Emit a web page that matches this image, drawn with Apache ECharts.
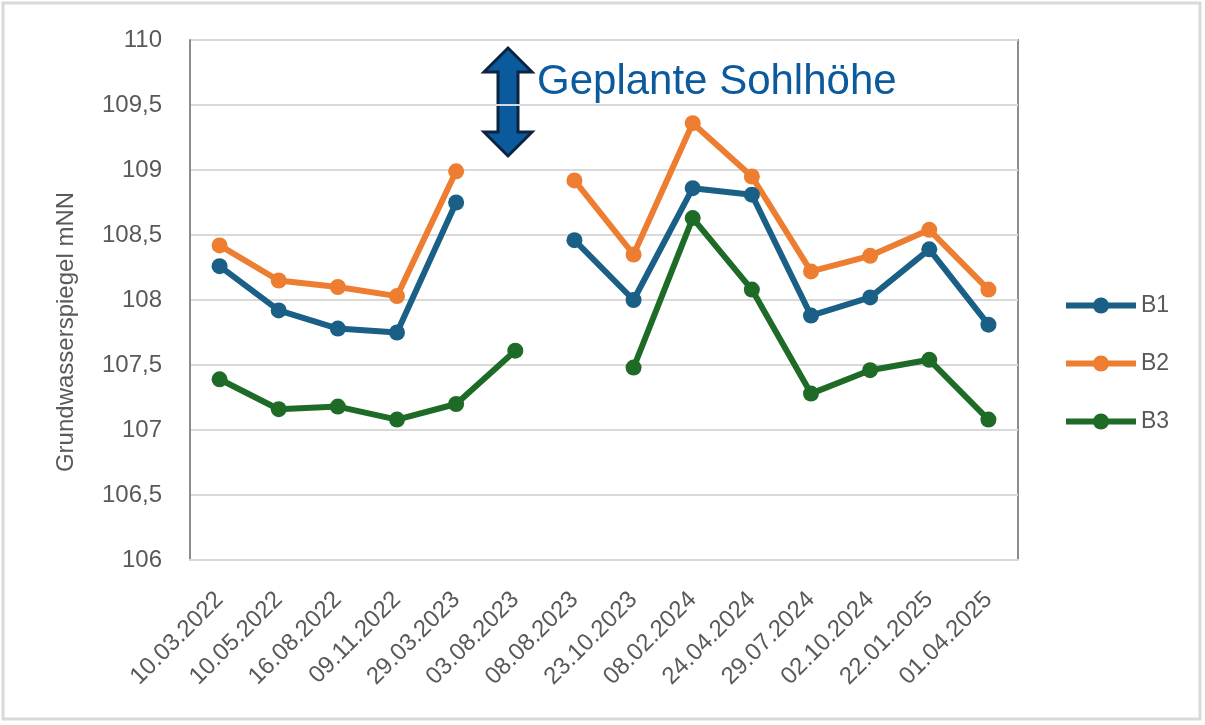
<!DOCTYPE html>
<html>
<head>
<meta charset="utf-8">
<script src="https://cdn.jsdelivr.net/npm/echarts@6/dist/echarts.min.js"></script>
<style>
  html, body { margin: 0; padding: 0; background: #fff; }
  #chart { width: 1205px; height: 725px; }
</style>
</head>
<body>
<div id="chart"></div>
<script>
  // Messdaten
  var dates = ['10.03.2022', '10.05.2022', '16.08.2022', '09.11.2022', '29.03.2023', '03.08.2023', '08.08.2023',
    '23.10.2023', '08.02.2024', '24.04.2024', '29.07.2024', '02.10.2024', '22.01.2025', '01.04.2025']
  var b1 = [108.26, 107.92, 107.78, 107.75, 108.75, null, 108.46, 108.0, 108.86, 108.81, 107.88, 108.02, 108.39, 107.81]
  var b2 = [108.42, 108.15, 108.10, 108.03, 108.99, null, 108.92, 108.35, 109.36, 108.95, 108.22, 108.34, 108.54, 108.08]
  var b3 = [107.39, 107.16, 107.18, 107.08, 107.20, 107.61, null, 107.48, 108.63, 108.08, 107.28, 107.46, 107.54, 107.08]
  var yTicks = [106, 110, 0.5] // min, max, interval

  var font = 'Liberation Sans'
  var grey = '#595959'

  function line(name, color, data) {
    return {
      name: name,
      type: 'line',
      data: data,
      symbol: 'circle',
      symbolSize: 16,
      lineStyle: {width: 6, color: color},
      itemStyle: {color: color},
      connectNulls: false
    }
  }

  var chart = echarts.init(document.getElementById('chart'))
  chart.setOption({
    animation: false,
    textStyle: {fontFamily: font},
    grid: {left: 190, right: 187, top: 40, bottom: 165},
    legend: {
      orient: 'vertical',
      left: 1058,
      top: 289,
      itemWidth: 70,
      itemHeight: 20,
      itemGap: 35,
      itemTextGap: 4,
      data: ['B1', 'B2', 'B3'],
      lineStyle: {width: 6},
      textStyle: {fontSize: 23, color: grey}
    },
    xAxis: {
      type: 'category',
      data: dates,
      boundaryGap: true,
      axisLine: {lineStyle: {color: '#d9d9d9', width: 2}},
      axisTick: {show: false},
      axisLabel: {rotate: 45, fontSize: 24, color: grey, margin: 36, interval: 0}
    },
    yAxis: {
      type: 'value',
      min: yTicks[0],
      max: yTicks[1],
      interval: yTicks[2],
      name: 'Grundwasserspiegel mNN',
      nameLocation: 'middle',
      nameGap: 112,
      nameTextStyle: {fontSize: 24, color: grey, padding: [0, 64, 0, 0]},
      axisLine: {show: true, lineStyle: {color: '#8c8c8c', width: 2}},
      axisTick: {show: false},
      axisLabel: {
        fontSize: 24, color: grey, margin: 28,
        formatter: function (v) { return String(v).replace('.', ',') }
      },
      splitLine: {lineStyle: {color: '#d9d9d9', width: 2}}
    },
    series: [
      line('B1', '#1a5f85', b1),
      line('B2', '#ed7d31', b2),
      line('B3', '#1e6b28', b3)
    ],
    graphic: [
      {
        type: 'rect', silent: true,
        shape: {x: 3, y: 3, width: 1197, height: 716},
        style: {fill: null, stroke: '#d9d9d9', lineWidth: 3}
      },
      // Rahmen oben/rechts
      {
        type: 'polyline', silent: true,
        shape: {points: [[190, 40], [1018, 40], [1018, 560]]},
        style: {stroke: '#8c8c8c', lineWidth: 2, fill: null}
      },
      // Doppelpfeil
      {
        type: 'polygon', silent: true,
        shape: {points: [[508, 48], [532, 72], [518, 72], [518, 132], [532, 132], [508, 156],
          [484, 132], [498, 132], [498, 72], [484, 72]]},
        style: {fill: '#0b5a9e', stroke: '#0d2440', lineWidth: 3}
      },
      {
        type: 'text', silent: true,
        left: 537, top: 61,
        style: {text: 'Geplante Sohlhöhe', font: '42px ' + font, fill: '#0b5a9e'}
      }
    ]
  })
</script>
</body>
</html>
